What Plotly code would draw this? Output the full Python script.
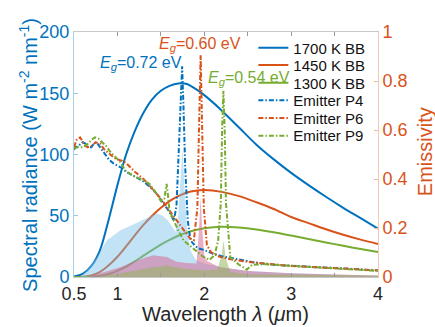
import plotly.graph_objects as go

# ---------------- data ----------------
lam_bb = [0.5, 0.6, 0.7, 0.8, 0.9, 1.0, 1.1, 1.2, 1.3, 1.4, 1.5, 1.6, 1.7, 1.8, 1.9,
          2.0, 2.2, 2.4, 2.6, 2.8, 3.0, 3.2, 3.4, 3.6, 3.8, 4.0]
bb_1700 = [0.3, 2.5, 9, 22, 47, 75, 100, 119, 134, 145, 152, 156, 158, 157.5, 153.5,
           148.5, 136, 122, 108, 96, 85, 75, 65.5, 56.5, 48, 39.5]
bb_1450 = [0, 0.3, 1.3, 4.2, 9.5, 16.5, 25, 34, 42.5, 50, 56.5, 62, 66, 69, 70.5,
           71, 69.5, 66, 61, 55.5, 49, 44, 39, 34.5, 30.5, 27]
bb_1300 = [0, 0, 0.3, 1.0, 2.5, 5, 8.5, 12.8, 17.4, 22, 26.4, 30.3, 33.7, 36.3, 38.3,
           39.8, 41, 40.4, 38.8, 36.5, 33.8, 31, 28.2, 25.5, 22.8, 20.3]

lam_p4 = [0.5, 0.52, 0.55, 0.6, 0.63, 0.66, 0.7, 0.73, 0.76, 0.8, 0.85, 0.9, 0.95, 1.0,
          1.05, 1.1, 1.2, 1.3, 1.4, 1.45, 1.5, 1.55, 1.6, 1.65, 1.68, 1.71, 1.73, 1.745,
          1.76, 1.78, 1.81, 1.84, 1.9, 1.95, 2.0, 2.1, 2.2, 2.4, 2.6, 2.8, 3.0, 3.3, 3.6, 4.0]
eps_p4 = [0.52, 0.53, 0.535, 0.55, 0.545, 0.53, 0.53, 0.545, 0.55, 0.53, 0.5, 0.48, 0.465, 0.455,
          0.445, 0.43, 0.41, 0.39, 0.36, 0.34, 0.315, 0.29, 0.265, 0.23, 0.29, 0.55, 0.78, 0.86,
          0.7, 0.45, 0.23, 0.15, 0.125, 0.115, 0.11, 0.095, 0.085, 0.07, 0.058, 0.05, 0.045, 0.04, 0.035, 0.027]

lam_p6 = [0.5, 0.53, 0.57, 0.6, 0.63, 0.66, 0.7, 0.75, 0.8, 0.85, 0.9, 0.95, 1.0, 1.05, 1.1,
          1.2, 1.3, 1.4, 1.5, 1.57, 1.64, 1.7, 1.76, 1.83, 1.88, 1.92, 1.945, 1.958, 1.97,
          1.995, 2.03, 2.08, 2.18, 2.3, 2.5, 2.8, 3.0, 3.3, 3.6, 4.0]
eps_p6 = [0.53, 0.56, 0.57, 0.555, 0.535, 0.53, 0.535, 0.55, 0.545, 0.52, 0.505, 0.49, 0.48, 0.475, 0.465,
          0.43, 0.40, 0.36, 0.32, 0.285, 0.25, 0.22, 0.19, 0.16, 0.15, 0.28, 0.7, 0.905, 0.7,
          0.28, 0.13, 0.1, 0.082, 0.072, 0.062, 0.05, 0.045, 0.04, 0.034, 0.027]

lam_p9 = [0.5, 0.55, 0.6, 0.65, 0.7, 0.74, 0.78, 0.82, 0.87, 0.92, 0.97, 1.03, 1.1, 1.2, 1.3,
          1.37, 1.45, 1.5, 1.54, 1.566, 1.58, 1.6, 1.65, 1.7, 1.76, 1.87, 1.99, 2.06, 2.12,
          2.16, 2.19, 2.205, 2.22, 2.235, 2.25, 2.3, 2.4, 2.49, 2.55, 2.7, 3.0, 3.3, 3.6, 4.0]
eps_p9 = [0.525, 0.53, 0.53, 0.54, 0.56, 0.57, 0.565, 0.55, 0.535, 0.51, 0.49, 0.47, 0.43, 0.41, 0.395,
          0.38, 0.34, 0.31, 0.32, 0.38, 0.34, 0.27, 0.23, 0.19, 0.15, 0.116, 0.082, 0.07, 0.09,
          0.15, 0.3, 0.6, 0.76, 0.6, 0.3, 0.08, 0.05, 0.03, 0.05, 0.052, 0.045, 0.04, 0.033, 0.025]

# emitted spectra (shaded areas, left axis)
lam_f4 = [0.5, 0.57, 0.65, 0.76, 0.88, 1.03, 1.22, 1.37, 1.45, 1.52, 1.57, 1.62, 1.67, 1.70,
          1.73, 1.75, 1.77, 1.8, 1.84, 1.9, 2.0, 2.2, 2.5, 3.0, 3.5, 4.0]
rad_f4 = [0, 0, 6, 16, 30, 38, 44, 49, 52, 50, 47, 42, 37, 50,
          85, 105, 75, 40, 22, 14, 11, 8, 5, 3, 2, 1]
lam_f6 = [0.5, 0.65, 0.8, 1.03, 1.22, 1.41, 1.57, 1.68, 1.8, 1.91, 1.94, 1.958, 1.975, 2.0,
          2.03, 2.18, 2.5, 3.0, 3.5, 4.0]
rad_f6 = [0, 0, 3, 8, 13.5, 17.7, 16.3, 12.5, 11.5, 11, 40, 65, 40, 18,
          13, 8, 5, 3, 2, 1.2]
lam_f9 = [0.5, 0.75, 0.95, 1.22, 1.41, 1.54, 1.566, 1.6, 1.68, 1.8, 2.0, 2.15, 2.2, 2.222,
          2.245, 2.3, 2.5, 3.0, 3.5, 4.0]
rad_f9 = [0, 0, 2, 5.5, 8, 9, 10, 8.5, 8, 6.5, 5.5, 6, 18, 30,
          16, 4, 2, 2, 1.5, 1]

x_tickvals = [0.5, 1, 1.5, 2, 2.5, 3, 3.5, 4]
x_ticktext = ['0.5', '1', '', '2', '', '3', '', '4']
y_tickvals = [0, 50, 100, 150, 200]
y2_tickvals = [0, 0.2, 0.4, 0.6, 0.8, 1]
y2_ticktext = ['0', '0.2', '0.4', '0.6', '0.8', '1']

BLUE = '#0072BD'
ORANGE = '#D95319'
GREEN = '#77AC30'
DASH = '5px,2px,1.5px,2px'

# one single-item legend per entry, so the entries sit at the reference spacing
legend_y = [0.935, 0.864, 0.792, 0.720, 0.648, 0.576]
legend_ids = ['legend', 'legend2', 'legend3', 'legend4', 'legend5', 'legend6']

fig = go.Figure()

for i, (name, y, c) in enumerate([('1700 K BB', bb_1700, BLUE), ('1450 K BB', bb_1450, ORANGE),
                                  ('1300 K BB', bb_1300, GREEN)]):
    fig.add_trace(go.Scatter(x=lam_bb, y=y, mode='lines', name=name, legend=legend_ids[i],
                             line=dict(color=c, width=2, shape='spline', smoothing=0.8)))

for x, y, fc in [(lam_f4, rad_f4, 'rgba(120,190,235,0.45)'),
                 (lam_f6, rad_f6, 'rgba(215,95,140,0.5)'),
                 (lam_f9, rad_f9, 'rgba(150,180,95,0.55)')]:
    fig.add_trace(go.Scatter(x=x, y=y, mode='lines', fill='tozeroy', fillcolor=fc,
                             line=dict(width=0), showlegend=False, hoverinfo='skip'))

for i, (name, x, y, c) in enumerate([('Emitter P4', lam_p4, eps_p4, BLUE),
                                     ('Emitter P6', lam_p6, eps_p6, ORANGE),
                                     ('Emitter P9', lam_p9, eps_p9, GREEN)]):
    fig.add_trace(go.Scatter(x=x, y=y, mode='lines', name=name, yaxis='y2',
                             legend=legend_ids[i + 3],
                             line=dict(color=c, width=2, dash=DASH)))

fig.add_annotation(x=1.27, y=174, xref='x', yref='y', showarrow=False,
                   text='<i>E</i><sub><i>g</i></sub>=0.72 eV', font=dict(size=16, color=BLUE))
fig.add_annotation(x=1.955, y=190, xref='x', yref='y', showarrow=False,
                   text='<i>E</i><sub><i>g</i></sub>=0.60 eV', font=dict(size=16, color=ORANGE))
fig.add_annotation(x=2.52, y=162, xref='x', yref='y', showarrow=False,
                   text='<i>E</i><sub><i>g</i></sub>=0.54 eV', font=dict(size=16, color=GREEN))

# axis titles
fig.add_annotation(x=-0.15, y=0.5, xref='paper', yref='paper', showarrow=False, textangle=-90,
                   xanchor='center', yanchor='middle',
                   text='Spectral radiance (W m<sup>-2</sup> nm<sup>-1</sup>)',
                   font=dict(size=20, color=BLUE))
fig.add_annotation(x=1.155, y=0.51, xref='paper', yref='paper', showarrow=False, textangle=-90,
                   xanchor='center', yanchor='middle', text='Emissivity',
                   font=dict(size=20, color=ORANGE))
fig.add_annotation(x=0.498, y=-0.152, xref='paper', yref='paper', showarrow=False,
                   xanchor='center', yanchor='middle', text='Wavelength <i>λ</i> (<i>μ</i>m)',
                   font=dict(size=20, color='#262626'))

layout_legends = {}
for lid, ly in zip(legend_ids, legend_y):
    layout_legends[lid] = dict(x=0.59, y=ly, xanchor='left', yanchor='middle',
                               bgcolor='rgba(0,0,0,0)', font=dict(size=15, color='#111111'))

fig.update_layout(
    width=435, height=327,
    margin=dict(l=74, r=57, t=32, b=50, autoexpand=False),
    paper_bgcolor='white', plot_bgcolor='white',
    font=dict(family='Liberation Sans, Arial, sans-serif', size=15, color='#262626'),
    showlegend=True,
    xaxis=dict(range=[0.5, 4], tickvals=x_tickvals, ticktext=x_ticktext, ticks='inside',
               ticklen=4, tickcolor='#999999', showline=True, linecolor='#c8c8c8', linewidth=1,
               mirror='ticks', showgrid=False, zeroline=False, automargin=False,
               tickfont=dict(size=18, color='#262626')),
    yaxis=dict(range=[0, 200], tickvals=y_tickvals, ticks='inside', ticklen=4,
               tickcolor='#9ec9e6', showline=True, linecolor='#a9d0ec', linewidth=1,
               showgrid=False, zeroline=False, automargin=False,
               tickfont=dict(size=18, color=BLUE)),
    yaxis2=dict(range=[0, 1], tickvals=y2_tickvals, ticktext=y2_ticktext, overlaying='y',
                side='right', ticks='inside', ticklen=4, tickcolor='#f2b9a2', showline=True,
                linecolor='#f5c7b4', linewidth=1, showgrid=False, zeroline=False,
                automargin=False, tickfont=dict(size=18, color=ORANGE)),
    **layout_legends,
)

fig.write_html('out.html', config={'displayModeBar': False},
               post_script="document.body.style.margin='0';document.body.style.padding='0';"
                           "document.documentElement.style.overflow='hidden';")
